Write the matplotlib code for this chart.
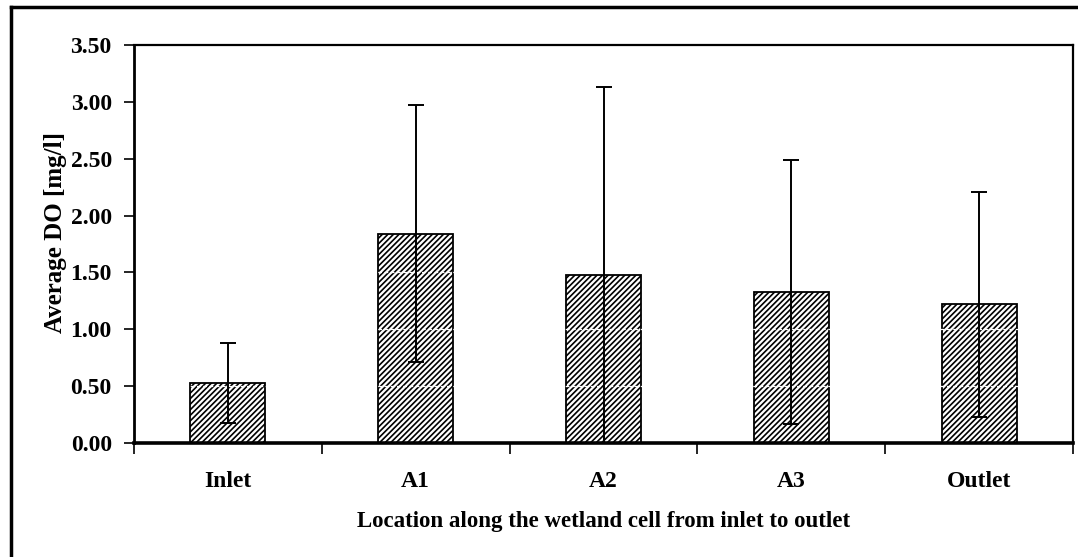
import numpy as np
import matplotlib
matplotlib.use("Agg")
import matplotlib.pyplot as plt
from matplotlib.lines import Line2D

# average dissolved oxygen per sampling point
locations = ["Inlet", "A1", "A2", "A3", "Outlet"]
avgDO = [0.53, 1.84, 1.48, 1.33, 1.22]
stdDO = [0.35, 1.13, 1.65, 1.16, 0.99]
yTicks = [0.0, 0.5, 1.0, 1.5, 2.0, 2.5, 3.0, 3.5]

plt.rcParams["font.family"] = ["Liberation Serif", "DejaVu Serif"]
plt.rcParams["font.weight"] = "bold"
plt.rcParams["hatch.linewidth"] = 1.2
plt.rcParams["hatch.color"] = "#404040"

fig = plt.figure(figsize=(10.78, 5.57), dpi=100)
ax = fig.add_axes([134/1078, 1-443/557, (1073-134)/1078, (443-45)/557])

x = np.arange(len(locations))
ax.bar(x, avgDO, width=0.4, color="white", edgecolor="black", linewidth=1.3,
       hatch="//////", zorder=2)
ax.errorbar(x, avgDO, yerr=stdDO, fmt="none", ecolor="black", elinewidth=1.4,
            capsize=6, capthick=1.4, zorder=4)

# faint dashed grid, only shows up through the hatching
ax.hlines(yTicks[1:-1], -0.5, len(locations)-0.5, colors="white",
          linestyles=(0, (3, 2)), linewidth=0.9, zorder=2.2)

ax.set_xlim(-0.5, len(locations)-0.5)
ax.set_ylim(0, 3.5)
ax.set_yticks(yTicks)
ax.set_yticklabels(["%.2f" % v for v in yTicks], fontsize=17, fontweight="bold")
ax.set_xticks(np.arange(len(locations)+1)-0.5)
ax.set_xticklabels([])
ax.set_xticks(x, minor=True)
ax.set_xticklabels(locations, minor=True, fontsize=17, fontweight="bold")
ax.tick_params(axis="x", which="minor", length=0, pad=20)
ax.tick_params(axis="x", which="major", direction="out", length=8, width=1.2)
ax.tick_params(axis="y", direction="out", length=7, width=1.2, pad=9)

for s in ["top", "right"]:
    ax.spines[s].set_linewidth(1.6)
ax.spines["left"].set_linewidth(2.0)
ax.spines["bottom"].set_linewidth(2.6)

ax.set_ylabel("Average DO [mg/l]", fontsize=18, fontweight="bold")
ax.yaxis.set_label_coords(-0.071, 0.53)
ax.set_xlabel("Location along the wetland cell from inlet to outlet", fontsize=16.5,
              fontweight="bold", labelpad=14)

# outer frame of the original sheet (left and top only visible)
fig.add_artist(Line2D([11/1078, 11/1078], [0, 1-7/557], color="black", linewidth=2.5,
                      transform=fig.transFigure))
fig.add_artist(Line2D([11/1078, 1], [1-7/557, 1-7/557], color="black", linewidth=2.5,
                      transform=fig.transFigure))

fig.savefig("out.png", dpi=100)
